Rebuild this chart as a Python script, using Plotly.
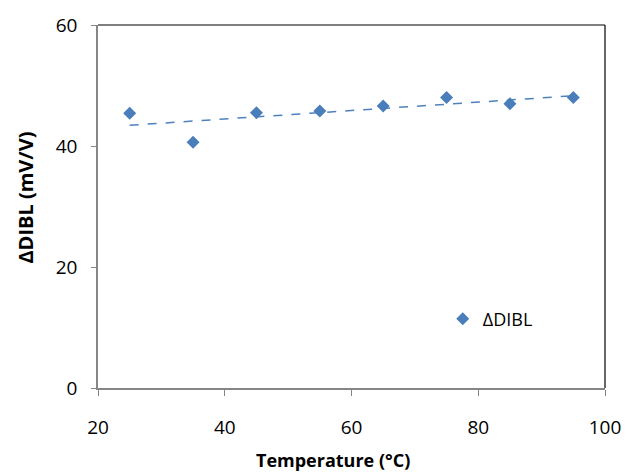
import numpy as np
import plotly.graph_objects as go

temperature = [25, 35, 45, 55, 65, 75, 85, 95]
delta_dibl = [45.4, 40.6, 45.5, 45.8, 46.6, 48.0, 47.0, 48.0]
x_ticks = [20, 40, 60, 80, 100]
y_ticks = [0, 20, 40, 60]

slope, intercept = np.polyfit(temperature, delta_dibl, 1)
trend_x = [temperature[0], temperature[-1]]
trend_y = [slope * v + intercept for v in trend_x]

FONT = "Open Sans"
fig = go.Figure()
fig.add_trace(go.Scatter(x=trend_x, y=trend_y, mode="lines",
                         line=dict(color="#4F81BD", width=1.5, dash="dash"),
                         showlegend=False, hoverinfo="skip"))
fig.add_trace(go.Scatter(x=temperature, y=delta_dibl, mode="markers", name="ΔDIBL",
                         marker=dict(symbol="diamond", size=10, color="#4A7EBB")))

fig.update_layout(
    width=633, height=476,
    margin=dict(l=98, r=21, t=22, b=88),
    paper_bgcolor="white", plot_bgcolor="white",
    font=dict(family=FONT, size=19, color="black"),
    legend=dict(x=0.68, y=0.19, xanchor="left", yanchor="middle",
                bgcolor="rgba(0,0,0,0)", font=dict(size=18)),
    xaxis=dict(range=[20, 100], tickvals=x_ticks, showgrid=False, zeroline=False,
               showline=True, linecolor="#868686", linewidth=1.5,
               ticks="outside", ticklen=6, tickcolor="#868686",
               ticklabelstandoff=15),
    yaxis=dict(range=[0, 60], tickvals=y_ticks, showgrid=False, zeroline=False,
               showline=True, linecolor="#868686", linewidth=1.5,
               ticks="outside", ticklen=5, tickcolor="#868686",
               ticklabelstandoff=10),
    shapes=[
        dict(type="line", xref="paper", yref="paper", x0=0, x1=1, y0=1, y1=1,
             line=dict(color="black", width=1.2)),
        dict(type="line", xref="paper", yref="paper", x0=1, x1=1, y0=0, y1=1,
             line=dict(color="black", width=1.2)),
    ],
    annotations=[
        dict(text="<b>Temperature (°C)</b>", xref="paper", yref="paper",
             x=(336 - 98) / (612 - 98), y=(388 - 475) / 366, xanchor="center", yanchor="bottom",
             showarrow=False, font=dict(size=18)),
        dict(text="<b>ΔDIBL (mV/V)</b>", xref="paper", yref="paper",
             x=(25 - 98) / (612 - 98), y=(388 - 196) / 366, xanchor="center", yanchor="middle",
             textangle=-90, showarrow=False, font=dict(size=20)),
    ],
)
fig.write_html("out.html")
